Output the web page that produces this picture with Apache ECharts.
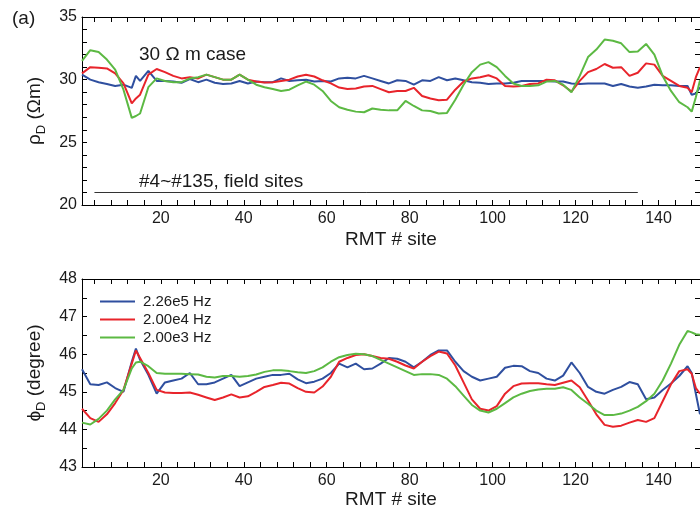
<!DOCTYPE html>
<html>
<head>
<meta charset="utf-8">
<title>RMT sites</title>
<script src="https://cdn.jsdelivr.net/npm/echarts@6/dist/echarts.min.js"></script>
<style>
html, body { margin: 0; padding: 0; background: #fff; }
#chart { width: 700px; height: 511px; }
</style>
</head>
<body>
<div id="chart"></div>
<script>
// site numbers (x) shared by all six curves
var sites = [1,3,5,7,9,11,13,14,15,17,19,
    21,23,25,27,29,31,33,35,37,39,
    41,43,45,47,49,51,53,55,57,59,
    61,63,65,67,69,71,73,75,77,79,
    81,83,85,87,89,91,93,95,97,99,
    101,103,105,107,109,111,113,115,117,119,
    121,123,125,127,129,131,133,135,137,139,
    141,143,145,147,148,149,150];

// apparent resistivity, ohm-m
var rhoBlue = [30.4,30.0,29.8,29.65,29.5,29.6,29.35,30.3,29.9,30.7,29.9,
    29.9,29.85,29.75,30.05,29.8,30.0,29.75,29.65,29.7,29.9,
    29.7,29.85,29.8,29.8,30.1,29.9,29.95,30.0,29.85,29.9,
    29.85,30.1,30.15,30.1,30.3,30.1,29.9,29.7,29.95,29.9,
    29.6,29.95,29.9,30.2,29.95,30.1,29.95,29.8,29.75,29.65,
    29.7,29.7,29.75,29.9,29.9,29.9,29.9,29.85,29.85,29.7,
    29.65,29.7,29.7,29.7,29.5,29.65,29.45,29.35,29.45,29.6,
    29.55,29.55,29.5,29.5,28.8,28.9,29.4];
var rhoRed = [30.5,31.0,30.95,30.9,30.5,29.7,28.1,28.5,28.8,30.4,30.85,
    30.6,30.3,30.1,30.2,30.1,30.4,30.2,30.0,30.0,30.4,
    30.0,29.85,29.77,29.8,29.9,30.0,30.25,30.4,30.25,29.95,
    29.7,29.37,29.25,29.3,29.45,29.5,29.25,29.0,29.1,29.1,
    29.35,28.7,28.5,28.35,28.4,29.2,29.85,30.1,30.2,30.35,
    30.1,29.5,29.45,29.5,29.65,29.7,30.0,29.95,29.55,29.05,
    29.9,30.6,30.85,31.25,30.95,31.0,30.3,30.55,31.3,31.2,
    30.3,29.9,29.5,29.35,29.0,30.2,31.0];
var rhoGreen = [31.5,32.35,32.2,31.6,30.8,29.2,26.95,27.1,27.3,29.4,30.1,
    29.9,29.8,29.8,30.1,30.2,30.4,30.2,30.0,30.0,30.4,
    30.0,29.6,29.4,29.25,29.1,29.2,29.55,29.85,29.6,29.1,
    28.3,27.8,27.6,27.45,27.4,27.7,27.6,27.55,27.55,28.3,
    27.9,27.55,27.5,27.3,27.35,28.4,29.6,30.6,31.2,31.4,
    31.0,30.3,29.7,29.5,29.5,29.55,29.85,29.9,29.6,29.0,
    30.3,31.8,32.4,33.2,33.1,32.9,32.2,32.25,32.85,32.0,
    30.3,29.1,28.2,27.8,27.45,28.6,29.96];

// phase, degree
var phiBlue = [45.6,45.2,45.18,45.25,45.1,45.0,45.8,46.15,45.85,45.45,44.95,
    45.25,45.3,45.35,45.5,45.2,45.2,45.25,45.35,45.45,45.15,
    45.25,45.35,45.4,45.45,45.45,45.48,45.33,45.23,45.27,45.35,
    45.5,45.75,45.65,45.75,45.6,45.62,45.75,45.9,45.88,45.8,
    45.65,45.8,45.98,46.1,46.1,45.8,45.55,45.4,45.3,45.35,
    45.4,45.64,45.69,45.68,45.55,45.5,45.35,45.3,45.43,45.78,
    45.5,45.13,45.0,44.95,45.05,45.13,45.26,45.2,44.8,44.85,
    45.05,45.22,45.42,45.68,45.5,44.95,44.4];
var phiRed = [44.55,44.3,44.2,44.4,44.7,45.05,45.75,46.1,45.9,45.5,45.05,
    44.98,44.97,44.97,44.98,44.92,44.85,44.78,44.85,44.93,44.85,
    44.88,45.0,45.13,45.18,45.24,45.22,45.1,45.0,44.98,45.14,
    45.4,45.8,45.9,45.98,46.0,45.95,45.9,45.88,45.8,45.7,
    45.62,45.8,45.95,46.07,46.02,45.7,45.25,44.8,44.55,44.5,
    44.62,44.95,45.15,45.22,45.23,45.23,45.2,45.18,45.24,45.3,
    45.12,44.77,44.4,44.12,44.07,44.1,44.18,44.25,44.2,44.3,
    44.75,45.2,45.55,45.6,45.48,45.1,44.95];
var phiGreen = [44.18,44.13,44.28,44.5,44.8,45.05,45.62,45.78,45.8,45.68,45.5,
    45.48,45.48,45.48,45.47,45.46,45.4,45.38,45.42,45.42,45.4,
    45.42,45.46,45.53,45.57,45.57,45.55,45.52,45.5,45.55,45.65,
    45.8,45.92,45.98,46.01,46.0,45.95,45.85,45.75,45.65,45.55,
    45.45,45.47,45.47,45.45,45.35,45.15,44.9,44.65,44.5,44.45,
    44.55,44.7,44.85,44.95,45.02,45.06,45.08,45.08,45.12,45.05,
    44.85,44.68,44.5,44.38,44.38,44.42,44.5,44.6,44.75,44.95,
    45.3,45.75,46.25,46.62,46.58,46.53,46.52];

var freqNames = ['2.26e5 Hz', '2.00e4 Hz', '2.00e3 Hz'];
var colors = ['#2f4f9f', '#e8242b', '#5cb943'];

var xLabels = [20, 40, 60, 80, 100, 120, 140];
var rhoLabels = [20, 25, 30, 35];
var phiLabels = [43, 44, 45, 46, 47, 48];
var fieldSpan = [4, 135];   // field sites #4~#135
var fieldLevel = 21;

var FONT = 'Liberation Sans';
var TXT = '#1a1a1a';

function steps(a, b, d) {
    var out = [];
    for (var v = a; v <= b + 1e-9; v += d) out.push(Math.round(v * 100) / 100);
    return out;
}
function pairs(ys) {
    return sites.map(function (s, i) { return [s, ys[i]]; });
}

var xTicks = steps(4, 148, 4);
var rhoTicks = steps(20, 35, 1);
var phiTicks = steps(43, 48, 0.5);

var lineAx = { show: true, lineStyle: { color: '#000', width: 1 } };

function xAxisDef(grid, pos, withLabels, gap) {
    return {
        type: 'value', gridIndex: grid, position: pos, min: 1, max: 150,
        axisLine: lineAx,
        axisTick: { show: true, inside: true, length: 5, customValues: xTicks, lineStyle: { color: '#000' } },
        axisLabel: { show: withLabels, customValues: xLabels, margin: 6, fontSize: 16, fontFamily: FONT, color: TXT },
        splitLine: { show: false },
        name: withLabels ? 'RMT # site' : '',
        nameLocation: 'middle', nameGap: gap,
        nameTextStyle: { fontSize: 19, fontFamily: FONT, color: TXT }
    };
}
function yAxisDef(grid, pos, lo, hi, step, ticks, labels, name) {
    var ax = {
        type: 'value', gridIndex: grid, position: pos, min: lo, max: hi, interval: step,
        axisLine: lineAx,
        axisTick: { show: true, inside: true, length: 5, customValues: ticks, lineStyle: { color: '#000' } },
        axisLabel: { show: !!name, customValues: labels, margin: 5, fontSize: 16, fontFamily: FONT, color: TXT },
        splitLine: { show: false }
    };
    if (name) {
        ax.name = name;
        ax.nameLocation = 'middle';
        ax.nameGap = 33;
        ax.nameTextStyle = {
            fontSize: 19, fontFamily: FONT, color: TXT,
            rich: {
                g: { fontSize: 19, fontFamily: FONT, color: TXT },
                s: { fontSize: 13, fontFamily: FONT, color: TXT, verticalAlign: 'bottom', padding: [14, 0, 0, 0] }
            }
        };
    }
    return ax;
}

function lineSeries(name, data, idx, grid) {
    return {
        name: name, type: 'line', data: pairs(data),
        xAxisIndex: grid, yAxisIndex: grid,
        symbol: 'none', showSymbol: false,
        lineStyle: { color: colors[idx], width: 2 },
        itemStyle: { color: colors[idx] },
        z: 2 + idx
    };
}

var chart = echarts.init(document.getElementById('chart'));

var series = [
    lineSeries(freqNames[0], rhoBlue, 0, 0),
    lineSeries(freqNames[1], rhoRed, 1, 0),
    lineSeries(freqNames[2], rhoGreen, 2, 0),
    lineSeries(freqNames[0], phiBlue, 0, 1),
    lineSeries(freqNames[1], phiRed, 1, 1),
    lineSeries(freqNames[2], phiGreen, 2, 1)
];
// black line marking the field-site range
series[0].markLine = {
    silent: true, symbol: 'none', animation: false,
    label: { show: false },
    lineStyle: { color: '#333', width: 1, type: 'solid' },
    data: [[{ coord: [fieldSpan[0], fieldLevel] }, { coord: [fieldSpan[1], fieldLevel] }]]
};

var option = {
    animation: false,
    backgroundColor: '#fff',
    grid: [
        { left: 82, right: 0, top: 17, height: 188 },
        { left: 82, right: 0, top: 279, height: 188 }
    ],
    xAxis: [
        xAxisDef(0, 'bottom', true, 25),
        xAxisDef(1, 'bottom', true, 21),
        Object.assign(xAxisDef(0, 'top', false, 0), { axisLabel: { show: false } }),
        Object.assign(xAxisDef(1, 'top', false, 0), { axisLabel: { show: false } })
    ],
    yAxis: [
        yAxisDef(0, 'left', 20, 35, 5, rhoTicks, rhoLabels, '{g|ρ}{s|D}{g| (Ωm)}'),
        yAxisDef(1, 'left', 43, 48, 1, phiTicks, phiLabels, '{g|ϕ}{s|D}{g| (degree)}'),
        yAxisDef(0, 'right', 20, 35, 5, rhoTicks, rhoLabels, null),
        yAxisDef(1, 'right', 43, 48, 1, phiTicks, phiLabels, null)
    ],
    legend: {
        data: freqNames,
        orient: 'vertical', left: 95, top: 289,
        icon: 'rect', itemWidth: 35, itemHeight: 2, itemGap: 3,
        textStyle: { fontSize: 15, fontFamily: FONT, color: TXT, padding: [0, 0, 0, 3] }
    },
    graphic: [
        { type: 'text', x: 12, y: 19, style: { text: '(a)', fontSize: 19, fontFamily: FONT, fill: TXT, verticalAlign: 'middle' } },
        { type: 'text', x: 139, y: 55, style: { text: '30 Ω m case', fontSize: 19, fontFamily: FONT, fill: TXT, verticalAlign: 'middle' } },
        { type: 'text', x: 139, y: 182, style: { text: '#4~#135, field sites', fontSize: 19, fontFamily: FONT, fill: TXT, verticalAlign: 'middle' } }
    ],
    series: series
};

chart.setOption(option);
</script>
</body>
</html>
